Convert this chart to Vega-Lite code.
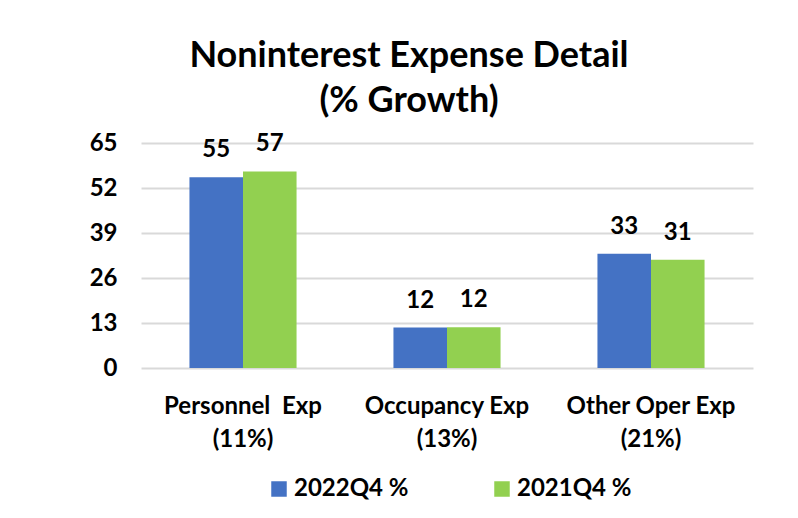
{
  "$schema": "https://vega.github.io/schema/vega-lite/v6.json",
  "width": 612,
  "height": 225,
  "autosize": {"type": "none"},
  "padding": {"left": 141, "top": 143, "right": 45, "bottom": 150},
  "background": "white",
  "title": {
    "text": ["Noninterest Expense Detail", "(% Growth)"],
    "font": "Lato",
    "fontSize": 36,
    "fontWeight": "bold",
    "color": "#000000",
    "lineHeight": 45,
    "anchor": "middle",
    "dx": -38,
    "offset": 11
  },
  "data": {
    "values": [
      {"category": "Personnel\u00a0 Exp|(11%)", "series": "2022Q4 %", "value": 55.1},
      {"category": "Personnel\u00a0 Exp|(11%)", "series": "2021Q4 %", "value": 56.8},
      {"category": "Occupancy Exp|(13%)", "series": "2022Q4 %", "value": 11.7},
      {"category": "Occupancy Exp|(13%)", "series": "2021Q4 %", "value": 11.8},
      {"category": "Other Oper Exp|(21%)", "series": "2022Q4 %", "value": 33.0},
      {"category": "Other Oper Exp|(21%)", "series": "2021Q4 %", "value": 31.3}
    ]
  },
  "encoding": {
    "x": {
      "field": "category",
      "type": "nominal",
      "sort": null,
      "scale": {"paddingInner": 0.475, "paddingOuter": 0.2375},
      "axis": {
        "title": null,
        "labelAngle": 0,
        "labelExpr": "split(datum.value, '|')",
        "labelFont": "Lato",
        "labelFontSize": 24,
        "labelFontWeight": "bold",
        "labelColor": "#000000",
        "labelLineHeight": 33,
        "labelPadding": 26,
        "labelBaseline": "top",
        "labelLimit": 300,
        "domain": false,
        "ticks": false,
        "grid": false
      }
    },
    "xOffset": {
      "field": "series",
      "type": "nominal",
      "sort": ["2022Q4 %", "2021Q4 %"],
      "scale": {"paddingInner": 0, "paddingOuter": 0}
    },
    "y": {
      "field": "value",
      "type": "quantitative",
      "scale": {"domain": [0, 65], "nice": false},
      "axis": {
        "title": null,
        "values": [0, 13, 26, 39, 52, 65],
        "labelFont": "Lato",
        "labelFontSize": 24,
        "labelFontWeight": "bold",
        "labelColor": "#000000",
        "labelPadding": 24,
        "domain": false,
        "ticks": false,
        "grid": true,
        "gridColor": "#D9D9D9",
        "gridWidth": 2
      }
    },
    "color": {
      "field": "series",
      "type": "nominal",
      "sort": ["2022Q4 %", "2021Q4 %"],
      "scale": {"domain": ["2022Q4 %", "2021Q4 %"], "range": ["#4472C4", "#92D050"]},
      "legend": {
        "title": null,
        "orient": "none",
        "legendX": 126,
        "legendY": 334,
        "direction": "horizontal",
        "symbolType": "square",
        "symbolSize": 240,
        "symbolStrokeWidth": 0,
        "symbolOpacity": 1,
        "labelFont": "Lato",
        "labelFontSize": 24,
        "labelFontWeight": "bold",
        "labelColor": "#000000",
        "labelOffset": 3,
        "labelLimit": 300,
        "columnPadding": 81
      }
    }
  },
  "layer": [
    {"mark": {"type": "bar", "opacity": 1}},
    {
      "mark": {
        "type": "text",
        "baseline": "alphabetic",
        "dy": -20,
        "font": "Lato",
        "fontSize": 24,
        "fontWeight": "bold",
        "color": "#000000"
      },
      "encoding": {
        "text": {"field": "value", "type": "quantitative", "format": ".0f"},
        "color": {"value": "#000000"}
      }
    }
  ],
  "config": {
    "view": {"stroke": null}
  }
}
